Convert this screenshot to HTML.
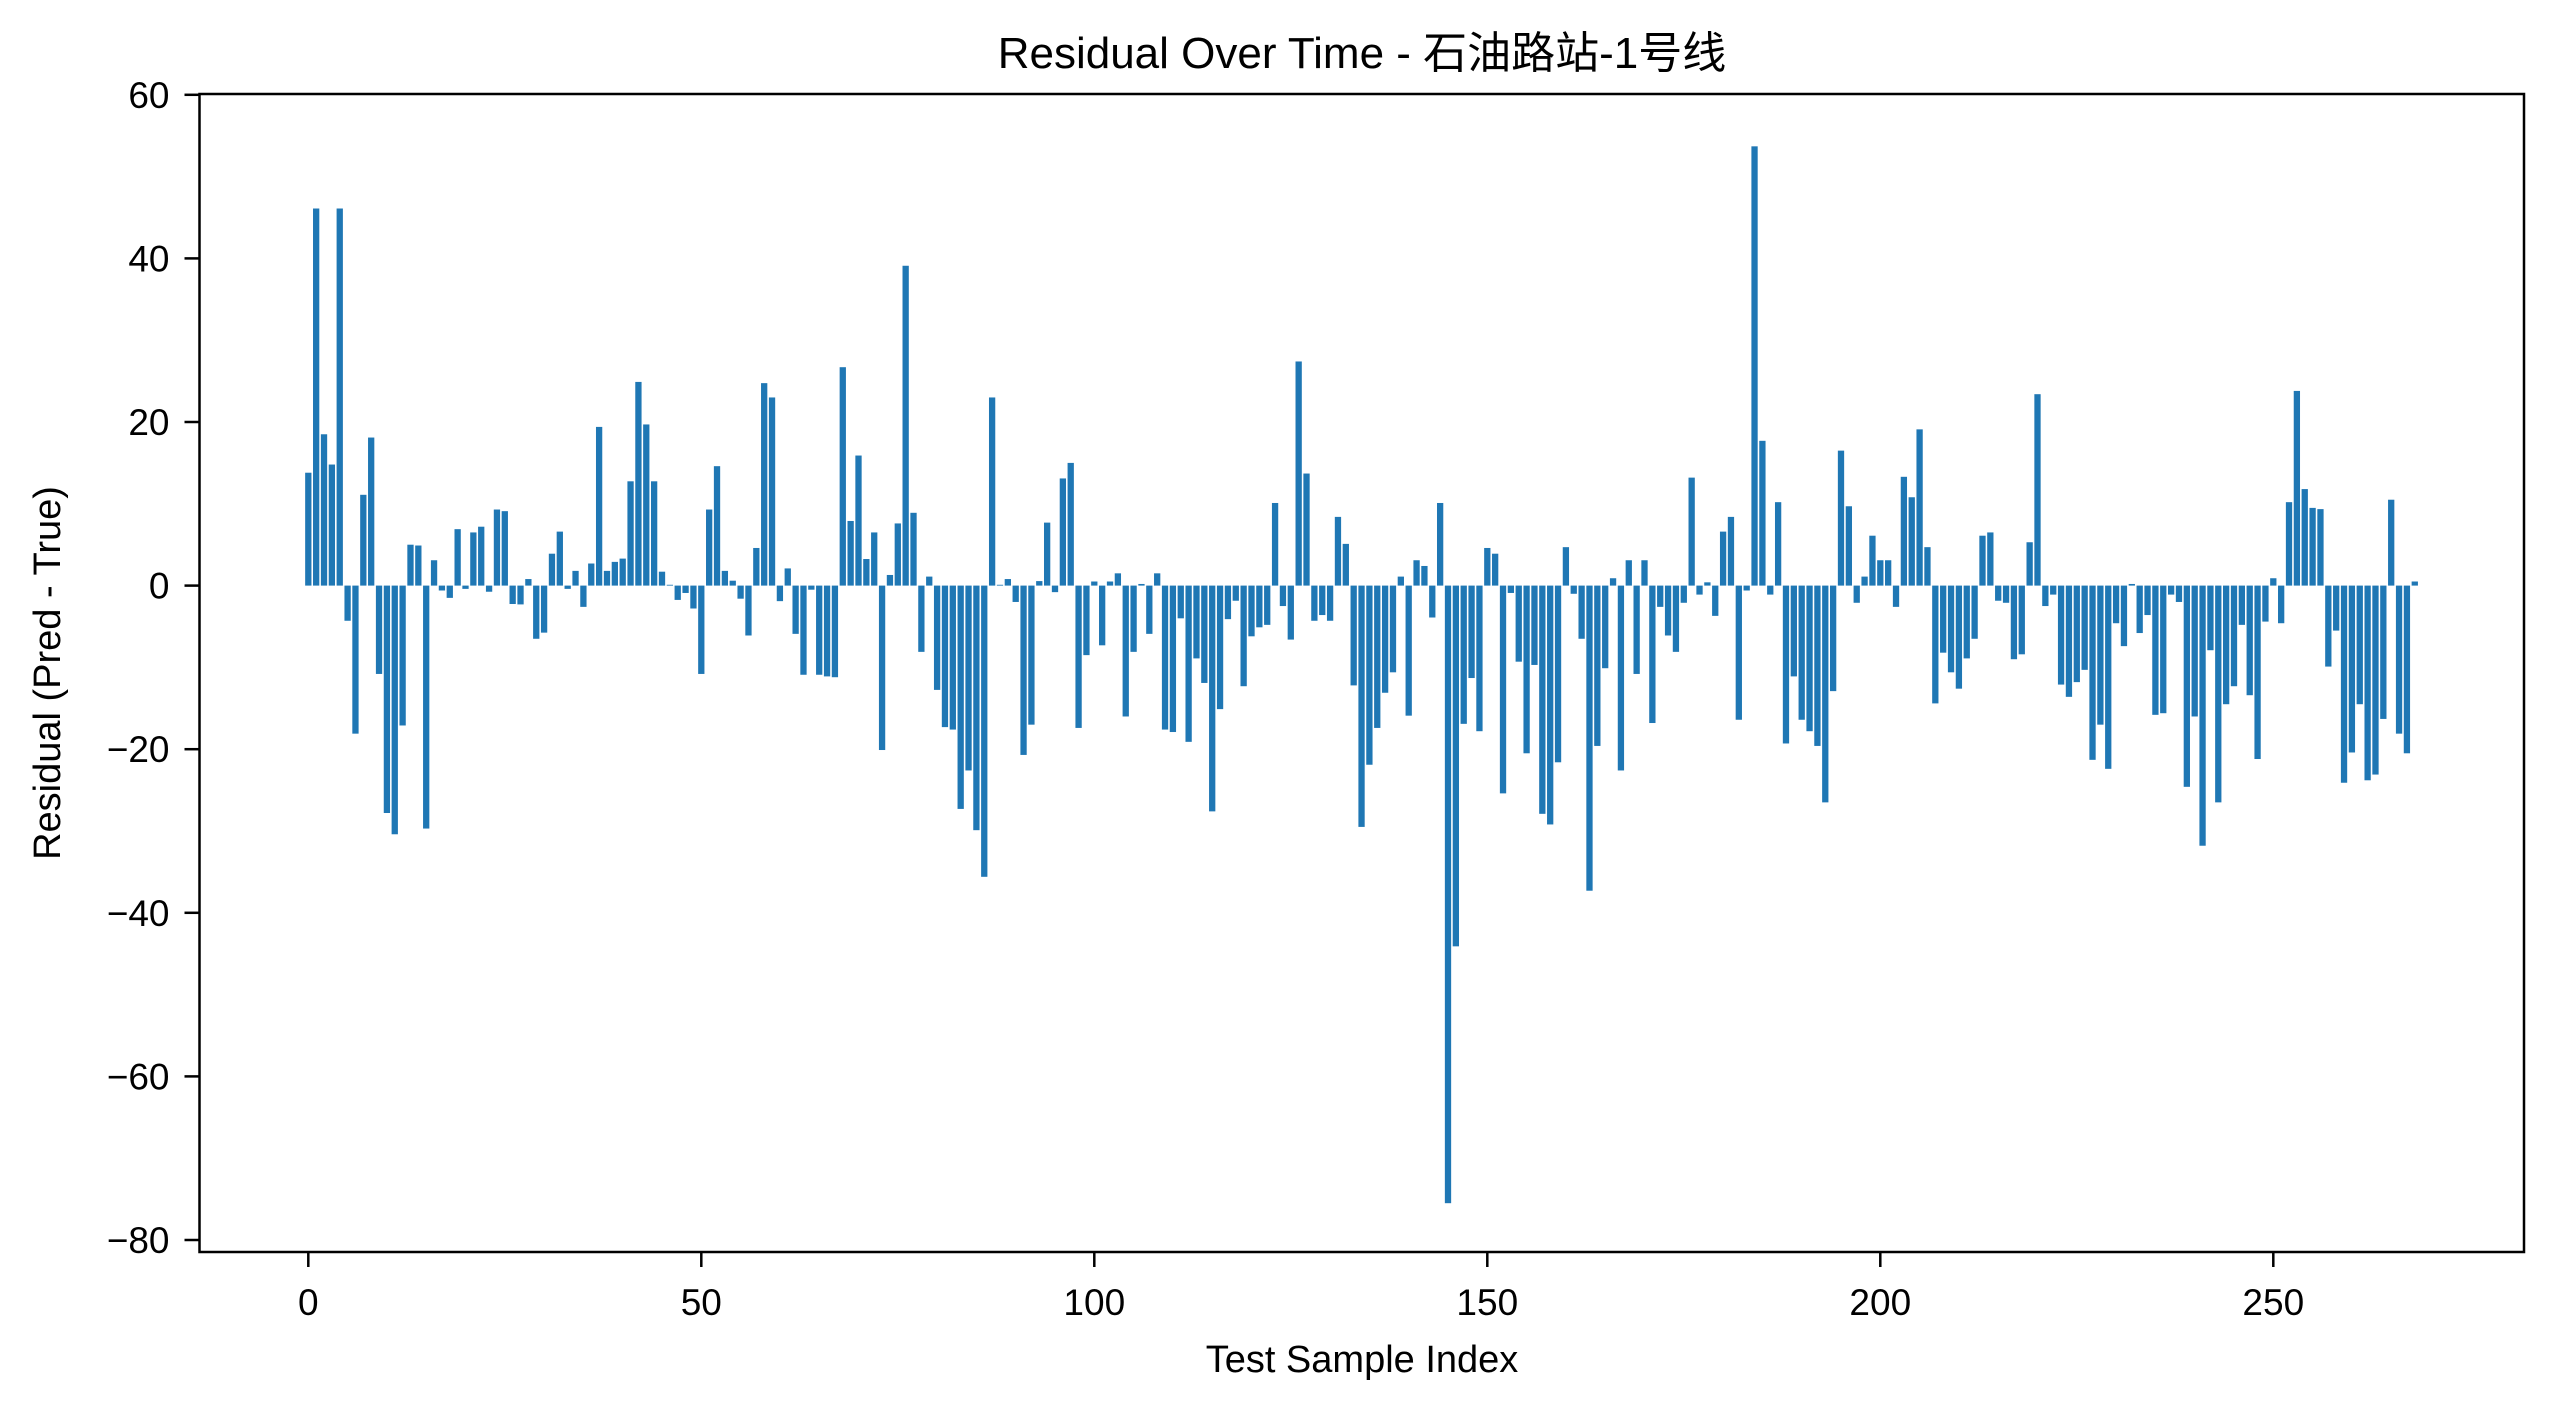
<!DOCTYPE html>
<html><head><meta charset="utf-8"><style>
html,body{margin:0;padding:0;background:#fff;}
svg{display:block;}
text{font-family:"Liberation Sans","Noto Sans CJK SC",sans-serif;fill:#000;}
</style></head><body>
<svg id="chart" width="2553" height="1411" viewBox="0 0 2553 1411" xmlns="http://www.w3.org/2000/svg">
<rect width="2553" height="1411" fill="#fff"/>
<text x="1362" y="68" font-size="44" text-anchor="middle">Residual Over Time - 石油路站-1号线</text>
<g id="bars"></g>
<g id="axes"></g>
<text x="1362" y="1372" font-size="38" text-anchor="middle">Test Sample Index</text>
<text transform="translate(60,673) rotate(-90)" font-size="38" text-anchor="middle">Residual (Pred - True)</text>
</svg>
<script>
const residuals = [
13.8,46.1,18.5,14.8,46.1,-4.3,-18.1,11.1,18.1,-10.8,-27.8,-30.4,-17.1,5.0,4.9,-29.7,3.1,-0.6,-1.5,6.9,
-0.4,6.5,7.2,-0.75,9.3,9.1,-2.25,-2.3,0.8,-6.5,-5.75,3.9,6.6,-0.4,1.8,-2.6,2.7,19.4,1.8,2.9,
3.3,12.75,24.9,19.7,12.75,1.7,0.1,-1.75,-0.9,-2.8,-10.8,9.3,14.6,1.8,0.6,-1.6,-6.1,4.6,24.75,23,
-1.9,2.1,-5.9,-10.9,-0.5,-10.9,-11.1,-11.2,26.7,7.9,15.9,3.25,6.5,-20.1,1.3,7.6,39.1,8.9,-8.1,1.1,
-12.75,-17.3,-17.6,-27.3,-22.6,-29.9,-35.6,23,0.1,0.8,-2.0,-20.7,-17.0,0.55,7.7,-0.8,13.1,15.0,-17.4,-8.5,
0.5,-7.3,0.5,1.5,-16,-8.1,0.2,-5.9,1.5,-17.6,-17.9,-4,-19.1,-8.9,-11.9,-27.6,-15.1,-4.1,-1.85,-12.3,
-6.2,-5.1,-4.8,10.1,-2.5,-6.6,27.4,13.7,-4.3,-3.6,-4.3,8.4,5.1,-12.2,-29.5,-21.9,-17.4,-13.1,-10.6,1.1,
-15.9,3.1,2.4,-3.9,10.1,-75.5,-44.1,-16.9,-11.3,-17.8,4.6,3.9,-25.4,-0.9,-9.3,-20.5,-9.7,-27.9,-29.2,-21.6,
4.7,-1,-6.5,-37.3,-19.6,-10.1,0.9,-22.6,3.1,-10.8,3.1,-16.8,-2.6,-6.1,-8.1,-2.1,13.2,-1.1,0.4,-3.7,
6.6,8.4,-16.4,-0.6,53.7,17.7,-1.1,10.2,-19.3,-11.1,-16.4,-17.8,-19.6,-26.5,-12.9,16.5,9.7,-2.1,1.1,6.1,
3.1,3.1,-2.6,13.3,10.8,19.1,4.7,-14.4,-8.2,-10.6,-12.6,-8.9,-6.5,6.1,6.5,-1.85,-2.1,-9.0,-8.4,5.3,
23.4,-2.5,-1.1,-12.1,-13.6,-11.8,-10.3,-21.3,-17,-22.4,-4.6,-7.4,0.2,-5.8,-3.6,-15.8,-15.6,-1.1,-2.0,-24.6,
-16,-31.8,-7.9,-26.5,-14.5,-12.3,-4.8,-13.4,-21.2,-4.4,0.9,-4.6,10.2,23.8,11.8,9.5,9.35,-9.9,-5.5,-24.1,
-20.4,-14.5,-23.8,-23.1,-16.3,10.5,-18.1,-20.5,0.5
];
const xTicks = [0,50,100,150,200,250];
const yTicks = [60,40,20,0,-20,-40,-60,-80];
const xTickLabels = ["0","50","100","150","200","250"];
const yTickLabels = ["60","40","20","0","\u221220","\u221240","\u221260","\u221280"];

const NS = "http://www.w3.org/2000/svg";
const L = 199.5, R = 2524, T = 94, B = 1252;
function xs(v){ return 308.3 + v * 7.86; }
function ys(v){ return 585.6 - v * 8.18; }
function mk(tag, attrs, parent){
  const e = document.createElementNS(NS, tag);
  for (const k in attrs) e.setAttribute(k, attrs[k]);
  parent.appendChild(e);
  return e;
}
const bars = document.getElementById('bars');
residuals.forEach((v, i) => {
  const x0 = xs(i - 0.4), x1 = xs(i + 0.4);
  const y0 = ys(Math.max(v, 0)), y1 = ys(Math.min(v, 0));
  const r = mk('rect', {x: x0, y: y0, width: x1 - x0, height: Math.max(y1 - y0, 0.5), fill: '#1f77b4'}, bars);
  
  
});
const axes = document.getElementById('axes');
const frame = mk('rect', {x: L, y: T, width: R - L, height: B - T, fill: 'none', stroke: '#000', 'stroke-width': 2.5}, axes);


xTicks.forEach((t, i) => {
  const x = xs(t);
  const tk = mk('line', {x1: x, x2: x, y1: B, y2: B + 15, stroke: '#000', 'stroke-width': 2.5}, axes);
  
  
  const lb = mk('text', {x: x, y: B + 63, 'font-size': 37, 'text-anchor': 'middle'}, axes);
  lb.textContent = xTickLabels[i];
  
  
});
yTicks.forEach((t, i) => {
  const y = ys(t);
  const tk = mk('line', {x1: L - 15, x2: L, y1: y, y2: y, stroke: '#000', 'stroke-width': 2.5}, axes);
  
  
  const lb = mk('text', {x: L - 30, y: y + 13, 'font-size': 37, 'text-anchor': 'end'}, axes);
  lb.textContent = yTickLabels[i];
  
  
});
</script>
</body></html>
